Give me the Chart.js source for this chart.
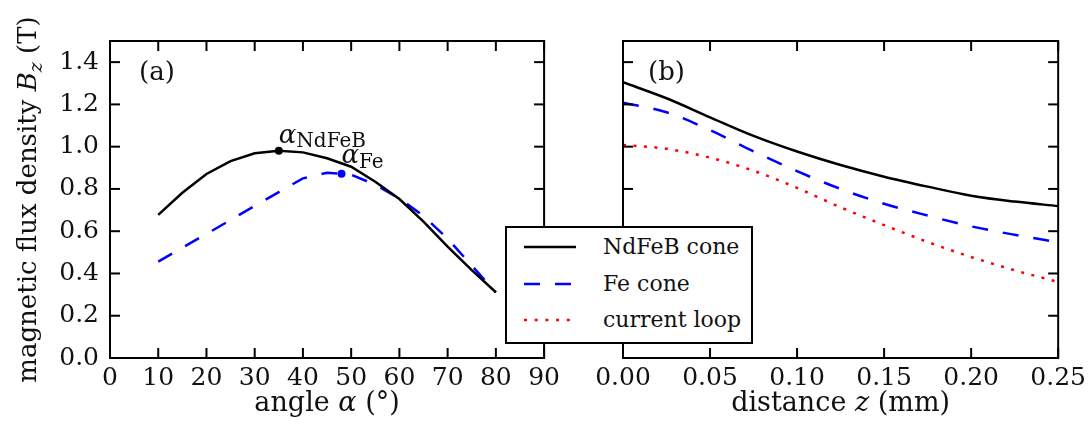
<!DOCTYPE html>
<html>
<head>
<meta charset="utf-8">
<script src="https://cdn.jsdelivr.net/npm/chart.js@4.4.1/dist/chart.umd.min.js"></script>
<style>
    html, body { margin: 0; padding: 0; background: #fff; }
    #wrap { position: relative; width: 1091px; height: 445px; overflow: hidden; }
    #chart-a { position: absolute; left: 0; top: 0; }
    #chart-b { position: absolute; left: 565px; top: 0; }
    #legend {
        position: absolute; left: 505px; top: 226px; width: 244px; height: 114px;
        border: 2px solid #000; background: #fff; z-index: 2;
        font-family: "DejaVu Serif", serif; font-size: 22px; color: #111;
    }
    #legend svg { position: absolute; left: 0; top: 0; }
    #legend span { position: absolute; left: 96px; line-height: 26px; white-space: nowrap; }
</style>
</head>
<body>
<div id="wrap">
    <canvas id="chart-a" width="565" height="445"></canvas>
    <canvas id="chart-b" width="526" height="445"></canvas>
    <div id="legend">
        <svg width="244" height="114">
            <line x1="17" y1="19" x2="69" y2="19" stroke="#000" stroke-width="2.5" />
            <line x1="17" y1="56" x2="69" y2="56" stroke="#0000ff" stroke-width="2.5" stroke-dasharray="16 15" />
            <line x1="17" y1="92" x2="69" y2="92" stroke="#ff0000" stroke-width="2.5" stroke-dasharray="3 7.7" />
        </svg>
        <span style="top: 6px;">NdFeB cone</span>
        <span style="top: 43px;">Fe cone</span>
        <span style="top: 79px;">current loop</span>
    </div>
</div>
<script>
const serif = '"DejaVu Serif", serif';

// (a) field vs cone angle
const angles = [10, 15, 20, 25, 30, 35, 40, 45, 50, 55, 60, 65, 70, 75, 80];
const ndfebByAngle = [0.677, 0.782, 0.871, 0.932, 0.969, 0.981, 0.973, 0.945, 0.905, 0.834, 0.752, 0.645, 0.527, 0.416, 0.311];
const feByAngle = [0.456, 0.522, 0.587, 0.653, 0.72, 0.785, 0.85, 0.877, 0.867, 0.82, 0.755, 0.672, 0.565, 0.437, 0.31];
const optimumAngles = [35, 48];
const optimumValues = [0.981, 0.872];

// (b) field vs distance
const distances = [0, 0.025, 0.05, 0.075, 0.1, 0.125, 0.15, 0.175, 0.2, 0.225, 0.25];
const ndfebByDist = [1.305, 1.229, 1.139, 1.051, 0.977, 0.913, 0.858, 0.811, 0.768, 0.74, 0.719];
const feByDist = [1.208, 1.163, 1.078, 0.978, 0.884, 0.80, 0.73, 0.674, 0.623, 0.583, 0.548];
const loopByDist = [1.008, 0.99, 0.948, 0.886, 0.805, 0.713, 0.629, 0.549, 0.478, 0.415, 0.36];

const angleTicks = [0, 10, 20, 30, 40, 50, 60, 70, 80, 90];
const distTicks = [0, 0.05, 0.1, 0.15, 0.2, 0.25];
const fluxTicks = [0, 0.2, 0.4, 0.6, 0.8, 1.0, 1.2, 1.4];

Chart.defaults.font.family = serif;
Chart.defaults.font.size = 25;
Chart.defaults.color = "#111";

function points(xs, ys) {
    return xs.map((x, i) => ({ x, y: ys[i] }));
}

function drawRich(ctx, parts, x, y, size, align) {
    const fonts = parts.map((p) => `${p.it ? "italic " : ""}${p.sub ? Math.round(size * 0.72) : size}px ${serif}`);
    let total = 0;
    parts.forEach((p, i) => {
        ctx.font = fonts[i];
        total += ctx.measureText(p.t).width;
    });
    let cx = align === "center" ? x - total / 2 : x;
    ctx.textAlign = "left";
    ctx.textBaseline = "alphabetic";
    parts.forEach((p, i) => {
        ctx.font = fonts[i];
        ctx.fillText(p.t, cx, y + (p.sub ? p.drop ?? size * 0.25 : 0));
        cx += ctx.measureText(p.t).width;
    });
}

// box around the plot area with inward ticks on all four sides
const framePlugin = {
    id: "frame",
    afterDatasetsDraw(chart) {
        const { ctx, chartArea: a, scales } = chart;
        const seg = (x1, y1, x2, y2) => {
            ctx.beginPath();
            ctx.moveTo(x1, y1);
            ctx.lineTo(x2, y2);
            ctx.stroke();
        };
        ctx.save();
        ctx.strokeStyle = "#000";
        ctx.lineWidth = 2;
        scales.x.ticks.forEach((t) => {
            const px = scales.x.getPixelForValue(t.value);
            seg(px, a.bottom, px, a.bottom - 10);
            seg(px, a.top, px, a.top + 10);
        });
        scales.y.ticks.forEach((t) => {
            const py = scales.y.getPixelForValue(t.value);
            seg(a.left, py, a.left + 10, py);
            seg(a.right, py, a.right - 10, py);
        });
        ctx.strokeRect(a.left, a.top, a.width, a.height);
        ctx.restore();
    },
};

const titlesPlugin = {
    id: "titles",
    afterDraw(chart, args, opts) {
        const { ctx, chartArea: a } = chart;
        ctx.save();
        ctx.fillStyle = "#111";
        drawRich(ctx, [{ t: opts.panel }], a.left + opts.panelOffset, 80, 26, "left");
        drawRich(ctx, opts.xTitle, (a.left + a.right) / 2, 411, 27, "center");
        if (opts.yTitle) {
            ctx.translate(36, (a.top + a.bottom) / 2);
            ctx.rotate(-Math.PI / 2);
            drawRich(ctx, opts.yTitle, 0, 0, 26, "center");
        }
        ctx.restore();
    },
};

const optimumPlugin = {
    id: "optimum",
    afterDraw(chart) {
        const { ctx, scales } = chart;
        const subs = [
            { t: "NdFeB", dy: -8, sdy: -4 },
            { t: "Fe", dy: -11, sdy: -6 },
        ];
        ctx.save();
        ctx.fillStyle = "#111";
        optimumAngles.forEach((ang, i) => {
            const px = scales.x.getPixelForValue(ang);
            const py = scales.y.getPixelForValue(optimumValues[i]);
            ctx.font = `italic 26px ${serif}`;
            ctx.textAlign = "left";
            ctx.textBaseline = "alphabetic";
            ctx.fillText("α", px, py + subs[i].dy);
            const w = ctx.measureText("α").width;
            ctx.font = `20px ${serif}`;
            ctx.fillText(subs[i].t, px + w, py + subs[i].sdy);
        });
        ctx.restore();
    },
};

const setTicks = (values) => (scale) => {
    scale.ticks = values.map((v) => ({ value: v }));
};

new Chart(document.getElementById("chart-a"), {
    type: "line",
    data: {
        datasets: [
            {
                data: points(angles, ndfebByAngle),
                borderColor: "#000",
                borderWidth: 2.5,
                pointRadius: 0,
                tension: 0,
            },
            {
                data: points(angles, feByAngle),
                borderColor: "#0000ff",
                borderWidth: 2.5,
                borderDash: [16, 15],
                pointRadius: 0,
                tension: 0,
            },
            {
                type: "scatter",
                data: [{ x: optimumAngles[0], y: optimumValues[0] }],
                pointRadius: 4,
                pointBackgroundColor: "#000",
                pointBorderWidth: 0,
            },
            {
                type: "scatter",
                data: [{ x: optimumAngles[1], y: optimumValues[1] }],
                pointRadius: 4,
                pointBackgroundColor: "#0000ff",
                pointBorderWidth: 0,
            },
        ],
    },
    options: {
        responsive: false,
        animation: false,
        layout: { padding: { top: 41, right: 19, left: 0, bottom: 0 } },
        plugins: {
            legend: { display: false },
            tooltip: { enabled: false },
            titles: {
                panel: "(a)",
                panelOffset: 29,
                xTitle: [{ t: "angle " }, { t: "α", it: true }, { t: " (°)" }],
                yTitle: [{ t: "magnetic flux density " }, { t: "B", it: true }, { t: "z", it: true, sub: true, drop: 6 }, { t: " (T)" }],
            },
        },
        scales: {
            x: {
                type: "linear",
                min: 0,
                max: 90,
                afterBuildTicks: setTicks(angleTicks),
                afterFit(scale) { scale.height = 87; },
                grid: { display: false, drawTicks: false },
                border: { display: false },
                ticks: { padding: 5, maxRotation: 0, autoSkip: false },
            },
            y: {
                min: 0,
                max: 1.5,
                afterBuildTicks: setTicks(fluxTicks),
                afterFit(scale) { scale.width = 110; },
                grid: { display: false, drawTicks: false },
                border: { display: false },
                ticks: { padding: 11, callback: (v) => v.toFixed(1) },
            },
        },
    },
    plugins: [framePlugin, titlesPlugin, optimumPlugin],
});

new Chart(document.getElementById("chart-b"), {
    type: "line",
    data: {
        datasets: [
            {
                data: points(distances, ndfebByDist),
                borderColor: "#000",
                borderWidth: 2.5,
                pointRadius: 0,
                cubicInterpolationMode: "monotone",
            },
            {
                data: points(distances, feByDist),
                borderColor: "#0000ff",
                borderWidth: 2.5,
                borderDash: [16, 15],
                pointRadius: 0,
                cubicInterpolationMode: "monotone",
            },
            {
                data: points(distances, loopByDist),
                borderColor: "#ff0000",
                borderWidth: 2.5,
                borderDash: [3, 7.5],
                pointRadius: 0,
                cubicInterpolationMode: "monotone",
            },
        ],
    },
    options: {
        responsive: false,
        animation: false,
        layout: { padding: { top: 41, right: 31, left: 58, bottom: 0 } },
        plugins: {
            legend: { display: false },
            tooltip: { enabled: false },
            titles: {
                panel: "(b)",
                panelOffset: 25,
                xTitle: [{ t: "distance " }, { t: "z", it: true }, { t: " (mm)" }],
            },
        },
        scales: {
            x: {
                type: "linear",
                min: 0,
                max: 0.25,
                afterBuildTicks: setTicks(distTicks),
                afterFit(scale) { scale.height = 87; },
                grid: { display: false, drawTicks: false },
                border: { display: false },
                ticks: { padding: 5, maxRotation: 0, autoSkip: false, callback: (v) => v.toFixed(2) },
            },
            y: {
                min: 0,
                max: 1.5,
                afterBuildTicks: setTicks(fluxTicks),
                afterFit(scale) { scale.width = 0; },
                grid: { display: false, drawTicks: false },
                border: { display: false },
                ticks: { display: false },
            },
        },
    },
    plugins: [framePlugin, titlesPlugin],
});
</script>
</body>
</html>
